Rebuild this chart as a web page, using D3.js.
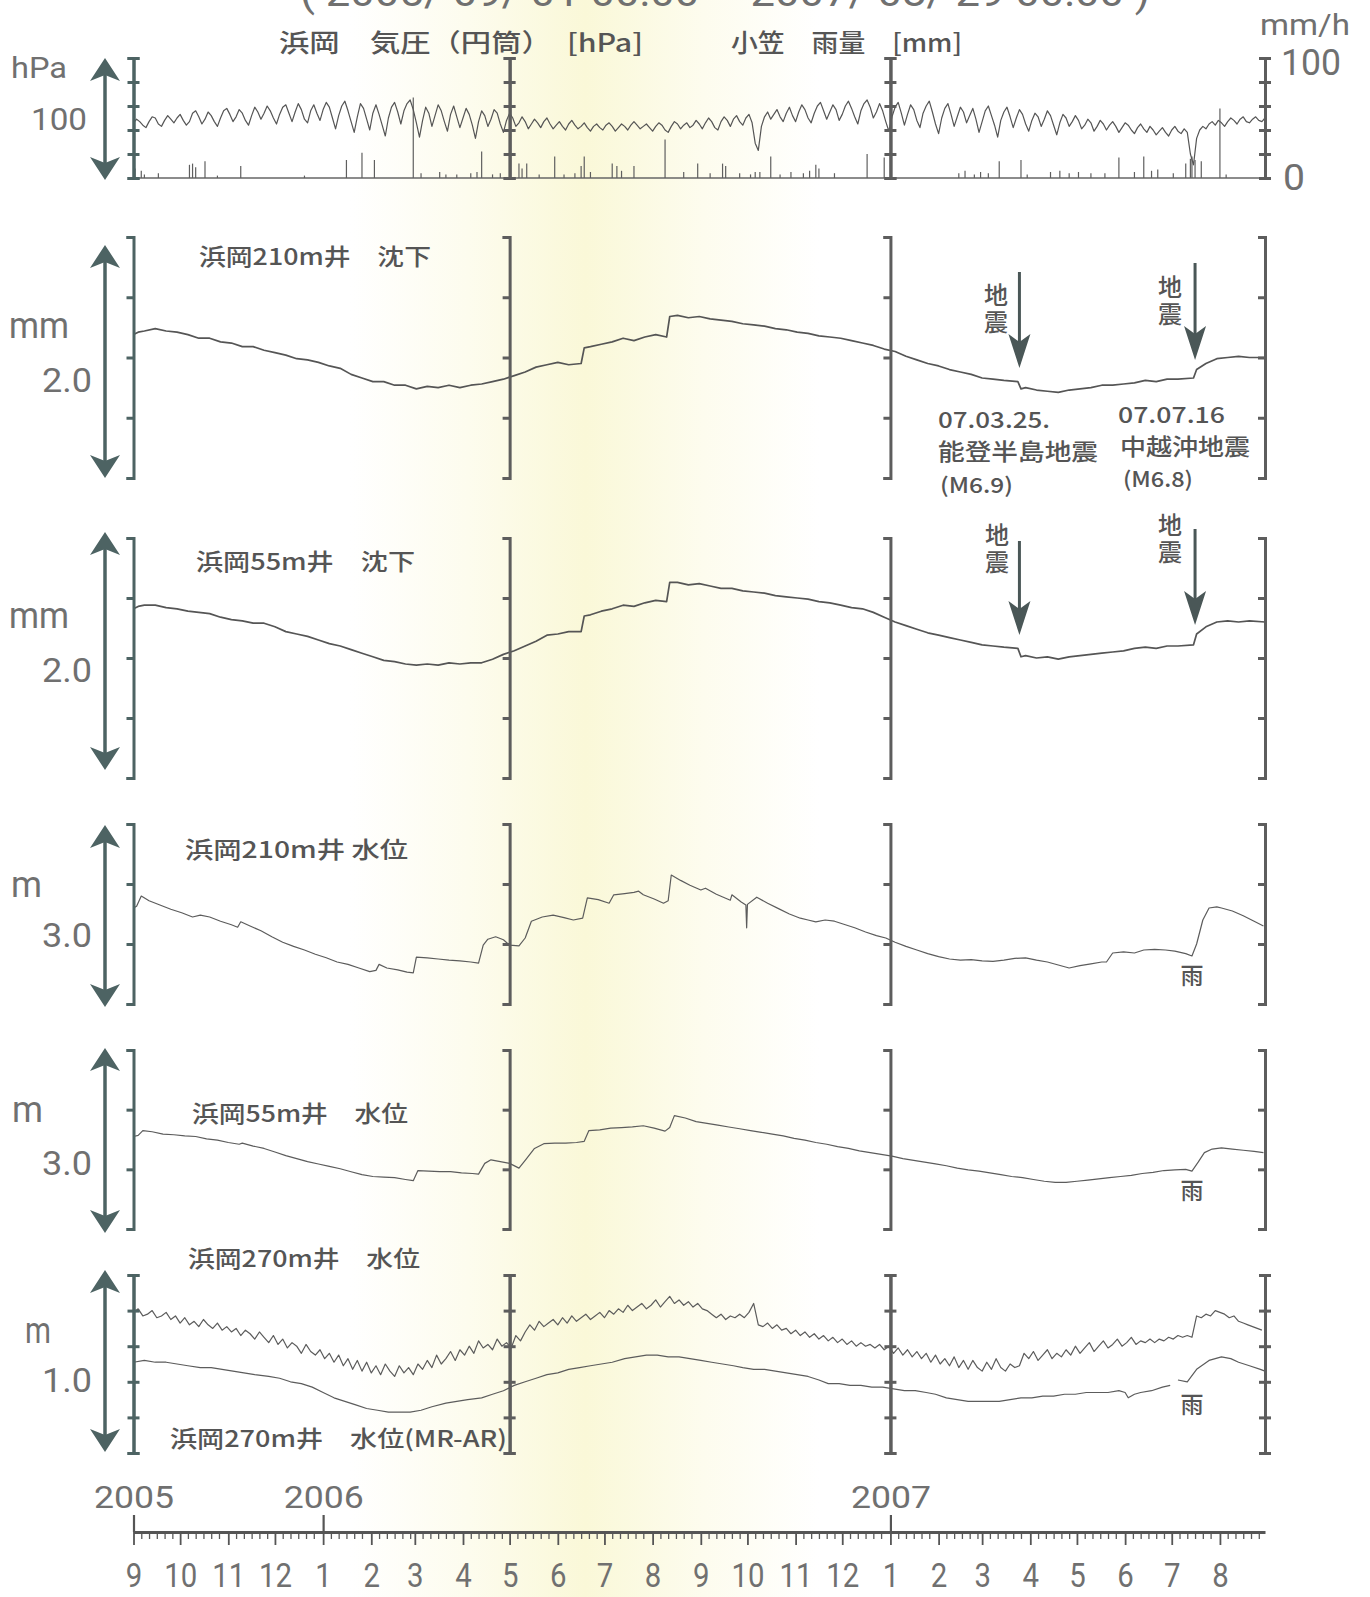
<!DOCTYPE html>
<html>
<head>
<meta charset="utf-8">
<script src="https://cdn.jsdelivr.net/npm/d3@7"></script>
<style>
  body { margin: 0; background: #fff; }
  svg { display: block; }
</style>
</head>
<body>
<div id="wrapper"></div>
<script>
// ---------- data ----------

// time frame of the record
const startDay = "2005-09-01";
const endDay = "2007-08-30";
const frameDates = ["2005-09-01", "2006-05-01", "2007-01-01", "2007-08-30"];
const yearTickDates = ["2005-09-01", "2006-01-01", "2007-01-01"];
const yearLabels = ["2005", "2006", "2007"];

// 浜岡 気圧, hPa, one value every 2 days
const pressureStepDays = 2;
const pressureHpa = [
  1011, 1014, 1012, 1009, 1007, 1012, 1016, 1015, 1010, 1008, 1013, 1017, 1014, 1011, 1015,
  1018, 1013, 1009, 1012, 1019, 1021, 1016, 1010, 1014, 1020, 1017, 1012, 1008, 1015, 1021,
  1023, 1018, 1012, 1016, 1022, 1019, 1013, 1009, 1017, 1024, 1020, 1014, 1019, 1025, 1021,
  1015, 1010, 1018, 1024, 1026, 1019, 1012, 1020, 1027, 1022, 1014, 1011, 1021, 1026, 1019,
  1013, 1022, 1028, 1024, 1015, 1006, 1017, 1025, 1029, 1021, 1012, 1003, 1016, 1027, 1023,
  1014, 1005, 1019, 1026, 1018, 1009, 1000, 1015, 1024, 1028, 1020, 1010, 1021, 1027, 1030,
  1022, 1011, 999, 1013, 1024, 1019, 1008, 1017, 1026, 1021, 1012, 1004, 1018, 1025, 1016,
  1007, 1015, 1023, 1018, 1009, 998, 1012, 1021, 1017, 1008, 1014, 1022, 1019, 1010, 1003,
  1013, 1019, 1015, 1008, 1011, 1016, 1012, 1006, 1010, 1014, 1011, 1007, 1012, 1015, 1010,
  1006, 1009, 1012, 1008, 1005, 1010, 1013, 1009, 1006, 1008, 1011, 1007, 1004, 1008, 1010,
  1007, 1005, 1009, 1011, 1008, 1004, 1007, 1010, 1008, 1005, 1009, 1012, 1009, 1006, 1008,
  1010, 1007, 1004, 1008, 1011, 1009, 1005, 1003, 1008, 1012, 1010, 1006, 1009, 1011, 1007,
  1009, 1013, 1010, 1006, 1011, 1015, 1012, 1007, 1005, 1012, 1016, 1013, 1008, 1014, 1017,
  1012, 1009, 1015, 1018, 1011, 994, 988, 1008, 1016, 1020, 1014, 1018, 1022, 1016, 1012,
  1019, 1024, 1017, 1012, 1020, 1026, 1022, 1015, 1011, 1019, 1025, 1028, 1021, 1014, 1020,
  1026, 1022, 1013, 1018, 1025, 1029, 1023, 1016, 1010, 1021, 1027, 1030, 1024, 1015, 1020,
  1027, 1021, 1012, 1004, 1016, 1024, 1028, 1019, 1009, 1018, 1026, 1022, 1013, 1007, 1019,
  1025, 1029, 1020, 1010, 1002, 1015, 1023, 1027, 1018, 1008, 1016, 1024, 1020, 1011, 1017,
  1023, 1014, 1003, 1012, 1021, 1025, 1017, 1009, 999, 1013, 1020, 1024, 1016, 1007, 1015,
  1022, 1018, 1010, 1004, 1013, 1019, 1016, 1008, 1014, 1021, 1017, 1009, 1001, 1011, 1018,
  1015, 1008, 1012, 1017, 1013, 1006, 1009, 1014, 1011, 1004, 1008, 1013, 1010, 1005, 1009,
  1012, 1008, 1003, 1007, 1011, 1009, 1005, 1002, 1007, 1010, 1006, 1003, 1008, 1005, 1001,
  1004, 1007, 1003, 1000, 1005, 1008, 1004, 1002, 1006, 1003, 985, 976, 998, 1005, 1008,
  1006, 1010, 1012, 1009, 1013, 1011, 1008, 1012, 1015, 1013, 1010, 1014, 1016, 1012, 1011,
  1014, 1016, 1013, 1012, 1015
];

// 小笠 雨量, mm/h
const rainDates = [
  "2005-09-02", "2005-09-06", "2005-09-08", "2005-09-17", "2005-10-07", "2005-10-09", "2005-10-11",
  "2005-10-17", "2005-10-25", "2005-11-09", "2005-12-20", "2006-01-16", "2006-01-26", "2006-02-03",
  "2006-02-28", "2006-03-05", "2006-03-17", "2006-03-21", "2006-03-28", "2006-04-06", "2006-04-10",
  "2006-04-13", "2006-04-20", "2006-04-25", "2006-05-07", "2006-05-09", "2006-05-12", "2006-05-20",
  "2006-05-30", "2006-06-05", "2006-06-12", "2006-06-16", "2006-06-18", "2006-06-22", "2006-07-06",
  "2006-07-09", "2006-07-12", "2006-07-20", "2006-08-09", "2006-08-21", "2006-08-30", "2006-09-07",
  "2006-09-15", "2006-09-17", "2006-09-26", "2006-10-03", "2006-10-06", "2006-10-09", "2006-10-16",
  "2006-10-22", "2006-10-29", "2006-11-06", "2006-11-10", "2006-11-14", "2006-11-16", "2006-11-26",
  "2006-12-17", "2006-12-28", "2007-02-14", "2007-02-18", "2007-02-24", "2007-02-28", "2007-03-05",
  "2007-03-12", "2007-03-26", "2007-03-30", "2007-04-14", "2007-04-20", "2007-04-26", "2007-05-02",
  "2007-05-10", "2007-05-19", "2007-05-28", "2007-06-07", "2007-06-13", "2007-06-18", "2007-06-22",
  "2007-07-02", "2007-07-10", "2007-07-13", "2007-07-14", "2007-07-16", "2007-07-20", "2007-08-01",
  "2007-08-05"
];
const rainMmH = [
  8, 6, 3, 4, 11, 12, 9,
  14, 2, 10, 2, 15, 21, 15,
  67, 4, 5, 3, 3, 4, 5,
  22, 3, 4, 12, 8, 12, 3,
  18, 3, 4, 10, 18, 5, 12,
  10, 6, 10, 32, 5, 12, 4,
  12, 10, 4, 3, 5, 5, 18,
  3, 5, 4, 6, 11, 8, 4,
  20, 17, 4, 6, 3, 5, 4,
  14, 15, 3, 5, 6, 4, 5,
  4, 4, 17, 5, 18, 6, 7,
  4, 12, 16, 18, 15, 14, 58,
  3
];

// [days since 2005-09-01, value]
// 浜岡210m井 沈下, mm
const sub210 = [
  [0,1.19],[3,1.21],[7,1.22],[14,1.24],[21,1.22],[28,1.21],[35,1.19],[42,1.16],[49,1.16],[56,1.13],
  [63,1.12],[70,1.09],[77,1.09],[84,1.06],[91,1.04],[98,1.02],[105,0.99],[112,0.98],[119,0.96],[126,0.93],
  [133,0.91],[140,0.86],[147,0.83],[154,0.80],[161,0.80],[168,0.77],[175,0.77],[182,0.74],[189,0.76],[196,0.75],
  [203,0.77],[210,0.75],[217,0.77],[224,0.78],[231,0.80],[238,0.82],[245,0.85],[252,0.88],[259,0.92],[266,0.94],
  [273,0.96],[280,0.94],[288,0.95],[290,1.08],[294,1.09],[301,1.11],[308,1.13],[315,1.16],[322,1.14],[329,1.17],
  [336,1.19],[343,1.17],[345,1.34],[350,1.35],[357,1.33],[364,1.34],[371,1.32],[378,1.31],[385,1.30],[392,1.28],
  [399,1.27],[406,1.26],[413,1.24],[420,1.23],[427,1.21],[434,1.20],[441,1.18],[448,1.17],[455,1.16],[462,1.14],
  [469,1.12],[476,1.10],[483,1.07],[490,1.05],[497,1.01],[504,0.98],[511,0.95],[518,0.93],[525,0.90],[532,0.88],
  [539,0.86],[546,0.83],[553,0.82],[560,0.81],[569,0.80],[571,0.74],[574,0.75],[581,0.73],[588,0.72],[595,0.71],
  [602,0.73],[609,0.74],[616,0.75],[623,0.77],[630,0.77],[637,0.78],[644,0.79],[651,0.81],[658,0.80],[665,0.82],
  [672,0.82],[682,0.83],[684,0.90],[690,0.95],[697,0.99],[704,1.00],[711,1.01],[718,1.00],[728,1.00]
];

// 浜岡55m井 沈下, mm
const sub55 = [
  [0,1.41],[3,1.43],[7,1.44],[14,1.44],[21,1.42],[28,1.41],[35,1.39],[42,1.38],[49,1.37],[56,1.34],
  [63,1.32],[70,1.31],[77,1.29],[84,1.29],[91,1.26],[98,1.22],[105,1.20],[112,1.18],[119,1.15],[126,1.12],
  [133,1.10],[140,1.07],[147,1.04],[154,1.01],[161,0.98],[168,0.97],[175,0.95],[182,0.94],[189,0.95],[196,0.94],
  [203,0.96],[210,0.95],[217,0.96],[224,0.96],[231,0.99],[238,1.03],[245,1.06],[252,1.10],[259,1.14],[266,1.19],
  [273,1.20],[280,1.22],[288,1.22],[290,1.35],[294,1.36],[301,1.39],[308,1.41],[315,1.44],[322,1.43],[329,1.46],
  [336,1.48],[343,1.47],[345,1.63],[350,1.63],[357,1.61],[364,1.62],[371,1.60],[378,1.58],[385,1.58],[392,1.56],
  [399,1.55],[406,1.54],[413,1.52],[420,1.51],[427,1.50],[434,1.49],[441,1.47],[448,1.46],[455,1.44],[462,1.42],
  [469,1.41],[476,1.38],[483,1.34],[490,1.30],[497,1.27],[504,1.24],[511,1.21],[518,1.19],[525,1.17],[532,1.15],
  [539,1.13],[546,1.11],[553,1.10],[560,1.09],[569,1.08],[571,1.01],[574,1.02],[581,1.00],[588,1.01],[595,0.99],
  [602,1.01],[609,1.02],[616,1.03],[623,1.04],[630,1.05],[637,1.06],[644,1.08],[651,1.09],[658,1.08],[665,1.10],
  [672,1.10],[682,1.11],[684,1.20],[690,1.26],[697,1.30],[704,1.31],[711,1.30],[718,1.31],[728,1.30]
];

// 浜岡210m井 水位, m
const wl210 = [
  [0,1.60],[2,1.63],[5,1.80],[10,1.72],[17,1.65],[24,1.58],[31,1.52],[38,1.45],[43,1.48],[49,1.45],
  [56,1.38],[63,1.32],[67,1.28],[69,1.37],[75,1.30],[82,1.22],[89,1.12],[96,1.03],[103,0.96],[110,0.90],
  [117,0.83],[124,0.77],[131,0.70],[138,0.66],[145,0.60],[152,0.54],[156,0.56],[158,0.66],[163,0.60],[170,0.57],
  [176,0.53],[180,0.52],[182,0.78],[189,0.77],[196,0.75],[203,0.73],[210,0.72],[217,0.70],[222,0.68],[225,0.98],
  [228,1.08],[233,1.12],[238,1.07],[242,0.98],[248,0.97],[252,1.10],[256,1.38],[263,1.45],[270,1.48],[277,1.44],
  [283,1.40],[289,1.43],[292,1.77],[299,1.74],[306,1.68],[309,1.82],[316,1.84],[322,1.86],[325,1.88],[328,1.82],
  [335,1.75],[341,1.68],[344,1.72],[346,2.15],[352,2.06],[358,1.98],[365,1.90],[368,1.93],[375,1.83],[384,1.73],
  [385,1.82],[391,1.70],[394,1.65],[394.5,1.27],[395,1.66],[401,1.78],[408,1.68],[415,1.59],[422,1.50],[429,1.43],
  [434,1.40],[439,1.37],[445,1.40],[451,1.38],[457,1.33],[464,1.27],[471,1.20],[478,1.14],[484,1.10],[490,1.03],
  [497,0.96],[504,0.90],[511,0.84],[518,0.79],[525,0.75],[532,0.73],[539,0.74],[546,0.72],[553,0.71],[560,0.73],
  [567,0.76],[574,0.77],[581,0.73],[588,0.70],[595,0.65],[602,0.60],[609,0.64],[616,0.67],[623,0.70],[626,0.70],
  [630,0.85],[637,0.87],[644,0.85],[650,0.90],[657,0.91],[664,0.90],[670,0.88],[677,0.84],[681,0.80],[684,1.00],
  [688,1.40],[692,1.60],[697,1.62],[700,1.60],[707,1.55],[714,1.47],[721,1.38],[727,1.30]
];

// 浜岡55m井 水位, m
const wl55 = [
  [0,1.55],[3,1.57],[6,1.65],[12,1.63],[19,1.59],[26,1.58],[33,1.56],[40,1.55],[47,1.51],[54,1.49],
  [61,1.45],[68,1.42],[70,1.44],[77,1.39],[84,1.35],[91,1.29],[98,1.23],[105,1.18],[112,1.13],[119,1.09],
  [126,1.05],[133,1.01],[140,0.96],[147,0.91],[154,0.88],[161,0.87],[168,0.86],[175,0.83],[180,0.81],[183,0.98],
  [190,0.97],[197,0.96],[204,0.96],[211,0.94],[218,0.93],[222,0.92],[226,1.10],[230,1.16],[236,1.13],[242,1.10],
  [248,1.02],[252,1.15],[258,1.35],[264,1.43],[271,1.44],[278,1.44],[285,1.45],[290,1.47],[293,1.65],[300,1.66],
  [307,1.69],[314,1.70],[321,1.71],[328,1.73],[335,1.69],[342,1.64],[345,1.70],[348,1.90],[355,1.86],[362,1.80],
  [369,1.77],[376,1.74],[383,1.71],[390,1.68],[397,1.65],[404,1.62],[411,1.59],[418,1.56],[425,1.52],[432,1.49],
  [439,1.45],[446,1.42],[453,1.38],[460,1.35],[467,1.31],[474,1.28],[481,1.25],[488,1.22],[495,1.18],[502,1.15],
  [509,1.12],[516,1.09],[523,1.06],[530,1.02],[537,0.99],[544,0.97],[551,0.94],[558,0.91],[565,0.88],[572,0.86],
  [579,0.83],[586,0.80],[593,0.78],[600,0.78],[607,0.80],[614,0.82],[621,0.84],[628,0.86],[635,0.88],[642,0.90],
  [649,0.93],[656,0.95],[663,0.98],[670,0.99],[677,1.00],[681,0.97],[685,1.12],[689,1.28],[694,1.34],[700,1.36],
  [707,1.34],[714,1.32],[721,1.30],[727,1.28]
];

// 浜岡270m井 水位, m, one value every 3 days
const wl270StepDays = 3;
const wl270 = [
  0.79, 0.81, 0.77, 0.78, 0.80, 0.76, 0.77, 0.79, 0.75, 0.77,
  0.73, 0.76, 0.72, 0.74, 0.71, 0.75, 0.72, 0.70, 0.73, 0.69,
  0.71, 0.68, 0.70, 0.66, 0.69, 0.67, 0.64, 0.68, 0.65, 0.62,
  0.66, 0.61, 0.64, 0.59, 0.62, 0.60, 0.56, 0.61, 0.57, 0.55,
  0.58, 0.53, 0.56, 0.51, 0.55, 0.49, 0.53, 0.47, 0.52, 0.46,
  0.51, 0.45, 0.49, 0.44, 0.50, 0.46, 0.43, 0.49, 0.45, 0.48,
  0.44, 0.50, 0.47, 0.52, 0.48, 0.55, 0.50, 0.53, 0.57, 0.52,
  0.58, 0.55, 0.60, 0.56, 0.63, 0.59, 0.61, 0.58, 0.64, 0.60,
  0.62, 0.59, 0.66, 0.63, 0.68, 0.72, 0.69, 0.74, 0.71, 0.73,
  0.75, 0.72, 0.76, 0.73, 0.77, 0.74, 0.76, 0.78, 0.75, 0.77,
  0.79, 0.76, 0.80, 0.78, 0.81, 0.79, 0.83, 0.80, 0.82, 0.84,
  0.81, 0.83, 0.86, 0.82, 0.85, 0.88, 0.84, 0.86, 0.83, 0.85,
  0.82, 0.84, 0.81, 0.80, 0.78, 0.76, 0.78, 0.75, 0.77, 0.76,
  0.78, 0.76, 0.79, 0.84, 0.72, 0.71, 0.73, 0.70, 0.72, 0.69,
  0.70, 0.67, 0.69, 0.66, 0.68, 0.65, 0.67, 0.64, 0.66, 0.63,
  0.65, 0.62, 0.64, 0.61, 0.63, 0.60, 0.62, 0.60, 0.61, 0.59,
  0.61, 0.58, 0.60, 0.56, 0.59, 0.55, 0.58, 0.54, 0.57, 0.53,
  0.56, 0.51, 0.55, 0.50, 0.53, 0.49, 0.54, 0.48, 0.52, 0.47,
  0.52, 0.48, 0.46, 0.51, 0.47, 0.53, 0.48, 0.46, 0.50, 0.48,
  0.49, 0.56, 0.53, 0.57, 0.52, 0.55, 0.58, 0.53, 0.56, 0.54,
  0.58, 0.55, 0.60, 0.56, 0.59, 0.62, 0.57, 0.60, 0.63, 0.59,
  0.61, 0.64, 0.60, 0.62, 0.65, 0.61, 0.63, 0.62, 0.64, 0.62,
  0.64, 0.63, 0.65, 0.64, 0.66, 0.65, 0.66, 0.65, 0.77, 0.76,
  0.78, 0.77, 0.80, 0.79, 0.78, 0.76, 0.77, 0.74, 0.73, 0.72,
  0.71, 0.70, 0.69
];

// 浜岡270m井 水位(MR-AR), m  (null = gap in record)
const wl270mrar = [
  [0,0.51],[7,0.52],[14,0.51],[21,0.51],[28,0.50],[35,0.49],[43,0.48],[50,0.48],[57,0.47],[64,0.46],
  [71,0.45],[78,0.44],[87,0.43],[94,0.42],[101,0.40],[108,0.39],[115,0.37],[122,0.34],[129,0.31],[136,0.29],
  [143,0.27],[150,0.25],[157,0.24],[164,0.23],[171,0.23],[178,0.23],[185,0.24],[192,0.26],[201,0.28],[208,0.29],
  [215,0.30],[224,0.31],[231,0.33],[238,0.35],[245,0.38],[252,0.40],[259,0.42],[266,0.44],[273,0.45],[280,0.47],
  [287,0.48],[294,0.49],[301,0.50],[308,0.51],[316,0.53],[323,0.54],[330,0.55],[337,0.55],[344,0.54],[351,0.54],
  [358,0.53],[365,0.52],[372,0.51],[379,0.50],[386,0.49],[392,0.48],[399,0.47],[406,0.47],[413,0.46],[420,0.45],
  [427,0.44],[434,0.43],[441,0.41],[447,0.39],[454,0.39],[461,0.38],[468,0.38],[475,0.37],[482,0.37],[489,0.36],
  [496,0.35],[503,0.35],[510,0.34],[516,0.33],[523,0.31],[530,0.30],[537,0.29],[544,0.29],[551,0.29],[557,0.29],
  [564,0.30],[571,0.31],[578,0.31],[585,0.32],[592,0.32],[599,0.33],[606,0.33],[613,0.34],[620,0.34],[627,0.34],
  [634,0.35],[638,0.34],[640,0.31],[644,0.33],[648,0.34],[655,0.35],[662,0.37],[667,0.38],[669,null],[672,0.41],
  [678,0.40],[684,0.47],[692,0.52],[700,0.54],[706,0.53],[711,0.51],[718,0.49],[725,0.47],[728,0.46]
];

// earthquakes
const quakeDates = ["2007-03-25", "2007-07-16"];
const quakeDateText = ["07.03.25.", "07.07.16"];
const quakeNames = ["能登半島地震", "中越沖地震"];
const quakeMags = ["(M6.9)", "(M6.8)"];

// ---------- drawing ----------
const W = 1370, H = 1597;
const tealGray = "#4d6363";
const frameGray = "#5d5d5d";
const lineGray = "#555555";
const textGray = "#555555";
const numGray = "#707070";
const jpFont = "'Noto Sans CJK JP', 'Noto Sans CJK SC', sans-serif";
const numFont = "Roboto, 'Liberation Sans', sans-serif";

const parseDay = d3.utcParse("%Y-%m-%d");
const t0 = parseDay(startDay);
const dayToDate = d => new Date(+t0 + d * 864e5);

const svg = d3.select("#wrapper").append("svg").attr("width", W).attr("height", H);

// pale yellow glow of the scan
const defs = svg.append("defs");
const glow = defs.append("linearGradient").attr("id", "glow")
  .attr("gradientUnits", "userSpaceOnUse").attr("x1", 350).attr("x2", 820).attr("y1", 0).attr("y2", 0);
[[0, "#ffffff"], [0.25, "#fdfcee"], [0.5, "#faf8d8"], [0.75, "#fdfcee"], [1, "#ffffff"]]
  .forEach(([o, c]) => glow.append("stop").attr("offset", o).attr("stop-color", c));
svg.append("rect").attr("width", W).attr("height", H).attr("fill", "#fff");
svg.append("rect").attr("width", W).attr("height", H).attr("fill", "url(#glow)");

const x = d3.scaleUtc().domain([t0, parseDay(endDay)]).range([133.5, 1265]);

function text(str, px, py, size, width, opts = {}) {
  const t = svg.append("text").attr("x", px).attr("y", py).text(str)
    .attr("font-size", size)
    .attr("font-family", opts.family || jpFont)
    .attr("font-weight", opts.weight || (opts.family ? 400 : 500))
    .attr("fill", opts.color || textGray)
    .attr("text-anchor", opts.anchor || "start");
  if (width) t.attr("textLength", width).attr("lengthAdjust", "spacingAndGlyphs");
  return t;
}

function frames(yScale, tickVals, kind) {
  frameDates.forEach((ds, k) => {
    const col = k === 0 ? tealGray : frameGray;
    const g = svg.append("g").attr("transform", `translate(${x(parseDay(ds))},0)`);
    g.call(d3.axisLeft(yScale).tickValues(tickVals).tickSize(kind === "bar" ? 6 : 7)
      .tickSizeOuter(kind === "bar" ? 6 : 7).tickFormat(""));
    if (kind === "bar") {
      g.append("g").call(d3.axisRight(yScale).tickValues(tickVals).tickSize(6).tickSizeOuter(6).tickFormat(""));
    }
    g.selectAll("path, line").attr("stroke", col).attr("stroke-width", 3);
  });
}

function doubleArrow(y1, y2) {
  const xc = 105;
  svg.append("line").attr("x1", xc).attr("x2", xc).attr("y1", y1 + 12).attr("y2", y2 - 12)
    .attr("stroke", tealGray).attr("stroke-width", 3.5);
  svg.append("path").attr("fill", tealGray)
    .attr("d", `M${xc},${y1} L${xc + 15},${y1 + 23} L${xc},${y1 + 17} L${xc - 15},${y1 + 23} Z`);
  svg.append("path").attr("fill", tealGray)
    .attr("d", `M${xc},${y2} L${xc + 15},${y2 - 23} L${xc},${y2 - 17} L${xc - 15},${y2 - 23} Z`);
}

function series(data, yScale, width, color) {
  const line = d3.line().defined(d => d[1] != null)
    .x(d => x(dayToDate(d[0]))).y(d => yScale(d[1]));
  svg.append("path").datum(data).attr("d", line)
    .attr("fill", "none").attr("stroke", color || lineGray)
    .attr("stroke-width", width).attr("stroke-linejoin", "round");
}

function quakeArrow(ds, yTop, yTip) {
  const xc = x(parseDay(ds));
  svg.append("line").attr("x1", xc).attr("x2", xc).attr("y1", yTop).attr("y2", yTip - 20)
    .attr("stroke", "#4a5757").attr("stroke-width", 3);
  svg.append("path").attr("fill", "#4a5757")
    .attr("d", `M${xc},${yTip} L${xc + 11},${yTip - 34} L${xc},${yTip - 26} L${xc - 11},${yTip - 34} Z`);
}

// "地震" written top to bottom beside each earthquake arrow
function vertLabel(cx, yTop) {
  svg.append("text").attr("x", cx).attr("y", yTop).text("地震")
    .attr("font-size", 24).attr("font-family", jpFont).attr("font-weight", 500)
    .attr("fill", textGray).attr("letter-spacing", 3)
    .style("writing-mode", "vertical-rl");
}

// title (cut off at the top edge of the scan)
text("( 2005/ 09/ 01 00:00  ~  2007/ 08/ 29 00:00 )", 300, 6, 40, 850, { family: numFont, color: numGray });

// ---- panel 1: pressure and rain ----
const yP = d3.scaleLinear().domain([965, 1065]).range([178, 58]);
const yR = d3.scaleLinear().domain([0, 100]).range([178, 58]);
svg.append("line").attr("x1", x.range()[0]).attr("x2", x.range()[1])
  .attr("y1", yR(0)).attr("y2", yR(0)).attr("stroke", "#666").attr("stroke-width", 1.6);
svg.append("g").selectAll("line").data(rainDates).join("line")
  .attr("x1", d => x(parseDay(d))).attr("x2", d => x(parseDay(d)))
  .attr("y1", yR(0)).attr("y2", (d, i) => yR(rainMmH[i]))
  .attr("stroke", "#5f5f5f").attr("stroke-width", 1.2);
series(pressureHpa.map((v, i) => [i * pressureStepDays, v]), yP, 1.2);
frames(yR, [0, 20, 40, 60, 80, 100], "bar");
doubleArrow(58, 180);
text("浜岡　気圧（円筒）　[hPa]", 279, 52, 25, 364);
text("小笠　雨量　[mm]", 731, 52, 25, 231);
text("hPa", 11, 78, 30, 56, { family: numFont, color: numGray });
text("100", 31, 130, 32, 56, { family: numFont, color: numGray });
text("mm/h", 1260, 35, 30, 90, { family: numFont, color: numGray });
text("100", 1281, 75, 36, 60, { family: numFont, color: numGray });
text("0", 1283, 190, 36, 22, { family: numFont, color: numGray });

// ---- panel 2: 浜岡210m井 沈下 ----
const y2 = d3.scaleLinear().domain([0, 2]).range([478, 237]);
series(sub210, y2, 1.7);
frames(y2, [0, 0.5, 1, 1.5, 2], "bracket");
doubleArrow(245, 478);
text("浜岡210m井　沈下", 199, 265, 23, 232);
text("mm", 9, 338, 36, 60, { family: numFont, color: numGray });
text("2.0", 42, 392, 33, 50, { family: numFont, color: numGray });
quakeArrow(quakeDates[0], 272, 368);
quakeArrow(quakeDates[1], 263, 360);
vertLabel(996, 283);
vertLabel(1170, 275);
text(quakeDateText[0], 938, 428, 22, 112);
text(quakeNames[0], 938, 460, 23, 160);
text(quakeMags[0], 940, 493, 21, 73);
text(quakeDateText[1], 1118, 423, 22, 107);
text(quakeNames[1], 1120, 455, 23, 130);
text(quakeMags[1], 1123, 487, 21, 70);

// ---- panel 3: 浜岡55m井 沈下 ----
const y3 = d3.scaleLinear().domain([0, 2]).range([778, 538]);
series(sub55, y3, 1.7);
frames(y3, [0, 0.5, 1, 1.5, 2], "bracket");
doubleArrow(532, 770);
text("浜岡55m井　沈下", 196, 570, 23, 219);
text("mm", 9, 628, 36, 60, { family: numFont, color: numGray });
text("2.0", 42, 682, 33, 50, { family: numFont, color: numGray });
quakeArrow(quakeDates[0], 541, 635);
quakeArrow(quakeDates[1], 529, 625);
vertLabel(997, 523);
vertLabel(1170, 513);

// ---- panel 4: 浜岡210m井 水位 ----
const y4 = d3.scaleLinear().domain([0, 3]).range([1004, 824]);
series(wl210, y4, 1.2, "#5c5c5c");
frames(y4, [0, 1, 2, 3], "bracket");
doubleArrow(825, 1007);
text("浜岡210m井 水位", 185, 858, 23, 223);
text("m", 11, 897, 36, 31, { family: numFont, color: numGray });
text("3.0", 42, 947, 33, 50, { family: numFont, color: numGray });
text("雨", 1192, 984, 23, null, { anchor: "middle" });

// ---- panel 5: 浜岡55m井 水位 ----
const y5 = d3.scaleLinear().domain([0, 3]).range([1229, 1050]);
series(wl55, y5, 1.2, "#5c5c5c");
frames(y5, [0, 1, 2, 3], "bracket");
doubleArrow(1048, 1233);
text("浜岡55m井　水位", 192, 1122, 23, 216);
text("m", 12, 1122, 36, 31, { family: numFont, color: numGray });
text("3.0", 42, 1175, 33, 50, { family: numFont, color: numGray });
text("雨", 1192, 1199, 23, null, { anchor: "middle" });

// ---- panel 6: 浜岡270m井 ----
const y6 = d3.scaleLinear().domain([0, 1]).range([1453, 1275]);
series(wl270.map((v, i) => [i * wl270StepDays, v]), y6, 1.2, "#5c5c5c");
series(wl270mrar, y6, 1.2, "#5c5c5c");
frames(y6, [0, 0.2, 0.4, 0.6, 0.8, 1], "bar");
doubleArrow(1270, 1452);
text("浜岡270m井　水位", 188, 1267, 23, 232);
text("浜岡270m井　水位(MR-AR)", 170, 1447, 23, 337);
text("m", 25, 1343, 36, 26, { family: numFont, color: numGray });
text("1.0", 42, 1392, 33, 50, { family: numFont, color: numGray });
text("雨", 1192, 1413, 23, null, { anchor: "middle" });

// ---- time axis ----
const axisY = 1532;
const minorDays = d3.utcDay.range(t0, parseDay(endDay)).filter(d => [6, 11, 16, 21, 26].includes(d.getUTCDate()));
const gMinor = svg.append("g").attr("transform", `translate(0,${axisY})`)
  .call(d3.axisBottom(x).tickValues(minorDays).tickSize(7).tickSizeOuter(0).tickFormat(""));
gMinor.select(".domain").remove();
gMinor.selectAll("line").attr("stroke", "#5a5a5a").attr("stroke-width", 1.3);

const months = d3.utcMonth.range(t0, parseDay(endDay));
const gMonth = svg.append("g").attr("transform", `translate(0,${axisY})`)
  .call(d3.axisBottom(x).tickValues(months).tickSize(13).tickSizeOuter(0).tickPadding(18)
    .tickFormat(d3.utcFormat("%-m")));
gMonth.select(".domain").attr("stroke", "#555").attr("stroke-width", 3);
gMonth.selectAll("line").attr("stroke", "#555").attr("stroke-width", 1.8);
gMonth.selectAll("text").attr("font-size", 34).attr("font-family", numFont).attr("fill", numGray)
  .attr("textLength", d => 16.5 * d3.utcFormat("%-m")(d).length).attr("lengthAdjust", "spacingAndGlyphs");

const gYear = svg.append("g").attr("transform", `translate(0,${axisY})`)
  .call(d3.axisTop(x).tickValues(yearTickDates.map(parseDay)).tickSize(17).tickSizeOuter(0).tickPadding(7)
    .tickFormat((d, i) => yearLabels[i]));
gYear.select(".domain").remove();
gYear.selectAll("line").attr("stroke", "#555").attr("stroke-width", 2.2);
gYear.selectAll("text").attr("font-size", 32).attr("font-family", numFont).attr("fill", numGray)
  .attr("textLength", 80).attr("lengthAdjust", "spacingAndGlyphs");
</script>
</body>
</html>
